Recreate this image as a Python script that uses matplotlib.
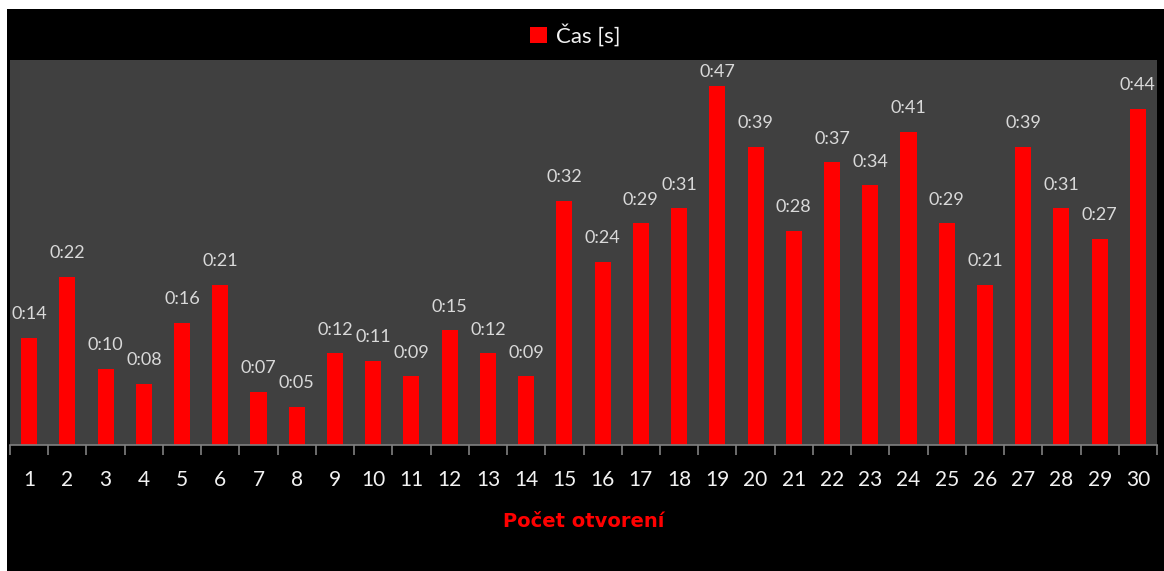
import matplotlib.pyplot as plt
from matplotlib.patches import Rectangle

# Čas otvorenia v sekundách pre jednotlivé pokusy
attempts = list(range(1, 31))
seconds = [14, 22, 10, 8, 16, 21, 7, 5, 12, 11, 9, 15, 12, 9, 32,
           24, 29, 31, 47, 39, 28, 37, 34, 41, 29, 21, 39, 31, 27, 44]
labels = ["0:%02d" % s for s in seconds]

plt.rcParams['font.family'] = ['Lato', 'DejaVu Sans']

fig = plt.figure(figsize=(11.64, 5.71), dpi=100, facecolor="white")
# black chart frame inside a thin white border
fig.patches.append(Rectangle((7 / 1164, 0), 1, 1 - 9 / 571, transform=fig.transFigure,
                             facecolor="black", edgecolor="none", zorder=-5))

ax = fig.add_axes([10 / 1164, 1 - 445 / 571, 1147 / 1164, 385 / 571])
ax.set_facecolor("#404040")
ymax = 50.4

bars = ax.bar(attempts, seconds, width=0.42, color="#ff0000", label="Čas [s]", zorder=2)
for rect, txt, s in zip(bars, labels, seconds):
    # label sits above the bar, but is kept inside the plot area
    y = min(s + 3.1, ymax - 1.6)
    ax.text(rect.get_x() + rect.get_width() / 2, y, txt, ha="center", va="center",
            color="#d9d9d9", fontsize=13)

ax.set_xlim(0.5, 30.5)
ax.set_ylim(0, ymax)

for side in ["top", "left", "right"]:
    ax.spines[side].set_visible(False)
ax.spines["bottom"].set_color("#808080")
ax.spines["bottom"].set_linewidth(1.2)

# tick marks between categories, labels centred under bars
ax.set_xticks([i + 0.5 for i in range(0, 31)])
ax.set_xticklabels([])
ax.tick_params(axis="x", which="major", length=7, width=1.2, color="#808080", direction="out")
ax.set_xticks(attempts, minor=True)
ax.set_xticklabels([str(a) for a in attempts], minor=True)
ax.tick_params(axis="x", which="minor", length=0, pad=18, labelsize=15, labelcolor="#f2f2f2")
ax.set_yticks([])

ax.set_xlabel("Počet otvorení", color="#ff0000", fontsize=14, fontweight="bold",
              family="DejaVu Sans", labelpad=16)

fig.legend(loc="center", bbox_to_anchor=(575 / 1164, 1 - 35 / 571), frameon=False,
           handlelength=0.75, handleheight=0.75, handletextpad=0.4,
           labelcolor="#f2f2f2", prop={"size": 16})

fig.savefig("out.png", dpi=100, facecolor=fig.get_facecolor())
